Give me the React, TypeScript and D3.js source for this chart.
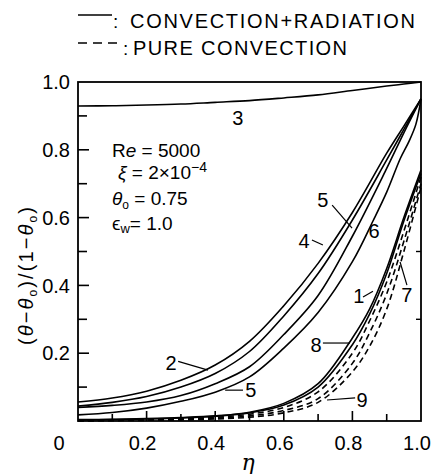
import React from "react";
import * as d3 from "d3";

// ---------- data ----------
const etaMid = [0, 0.1, 0.2, 0.3, 0.4, 0.5, 0.6, 0.7, 0.8, 0.9, 0.95, 1.0];
const curve4 = [0.056, 0.068, 0.088, 0.12, 0.165, 0.235, 0.34, 0.465, 0.615, 0.79, 0.87, 0.95];
const curve5 = [0.044, 0.055, 0.072, 0.1, 0.14, 0.205, 0.31, 0.435, 0.593, 0.77, 0.86, 0.95];
const curve2 = [0.04, 0.046, 0.056, 0.075, 0.11, 0.16, 0.255, 0.37, 0.545, 0.745, 0.85, 0.95];
const eta6 = [0, 0.1, 0.2, 0.3, 0.4, 0.5, 0.6, 0.7, 0.8, 0.86, 0.9, 0.94, 0.965, 0.985, 1.0];
const curve6 = [0.018, 0.025, 0.038, 0.058, 0.085, 0.13, 0.215, 0.32, 0.47, 0.59, 0.675, 0.775, 0.825, 0.875, 0.95];
const curve3 = [0.929, 0.93, 0.932, 0.935, 0.94, 0.945, 0.953, 0.962, 0.975, 0.988, 0.994, 1.0];

const etaLow = [0, 0.1, 0.2, 0.3, 0.4, 0.5, 0.6, 0.7, 0.8, 0.85, 0.9, 0.95, 1.0];
const curve1 = [0.004, 0.005, 0.007, 0.01, 0.015, 0.026, 0.052, 0.11, 0.245, 0.33, 0.45, 0.6, 0.74];
const curve8 = [0.003, 0.004, 0.006, 0.009, 0.014, 0.024, 0.047, 0.1, 0.225, 0.315, 0.435, 0.59, 0.73];
const curve7a = [0.002, 0.003, 0.004, 0.007, 0.011, 0.02, 0.04, 0.086, 0.2, 0.295, 0.41, 0.56, 0.72];
const curve7b = [0.001, 0.002, 0.003, 0.005, 0.008, 0.015, 0.031, 0.066, 0.17, 0.26, 0.375, 0.53, 0.7];
const curve9 = [0.0, 0.001, 0.002, 0.003, 0.006, 0.011, 0.024, 0.055, 0.145, 0.22, 0.33, 0.5, 0.69];

const yMajorTicks = [0.2, 0.4, 0.6, 0.8, 1.0];
const yMajorLabels = ["0.2", "0.4", "0.6", "0.8", "1.0"];
const yMinorTicks = [0.1, 0.3, 0.5, 0.7, 0.9];
const xMajorTicks = [0, 0.2, 0.4, 0.6, 0.8, 1.0];
const xMajorLabels = ["0", "0.2", "0.4", "0.6", "0.8", "1.0"];
const xMinorTicks = [0.1, 0.3, 0.5, 0.7, 0.9];
const rightTicks = [0.3, 0.5];

// curve-number annotations (data coords)
const labelText = ["3", "2", "5", "5", "4", "6", "1", "7", "8", "9"];
const labelEta = [0.466, 0.271, 0.504, 0.714, 0.659, 0.863, 0.819, 0.959, 0.694, 0.828];
const labelVal = [0.873, 0.15, 0.071, 0.631, 0.51, 0.54, 0.348, 0.351, 0.204, 0.041];
const leaders: (number[] | null)[] = [
  null,
  [0.292, 0.176, 0.379, 0.15],
  [0.429, 0.091, 0.481, 0.091],
  [0.741, 0.637, 0.799, 0.569],
  [0.682, 0.534, 0.714, 0.519],
  null,
  [0.831, 0.366, 0.86, 0.383],
  [0.959, 0.401, 0.939, 0.469],
  [0.714, 0.23, 0.793, 0.23],
  [0.808, 0.068, 0.726, 0.062],
];

const FONT = "'Liberation Sans', Arial, sans-serif";

export default function App() {
  const W = 434, H = 474;
  const x = d3.scaleLinear().domain([0, 1]).range([78, 421]);
  const y = d3.scaleLinear().domain([0, 1]).range([421, 82]);

  const mk = (xs: number[], ys: number[]) =>
    d3
      .line<number>()
      .x((_, i) => x(xs[i]))
      .y((v) => y(v))
      .curve(d3.curveCatmullRom.alpha(0.5))(ys) as string;

  const solid = [
    { xs: etaMid, ys: curve3 },
    { xs: etaMid, ys: curve4 },
    { xs: etaMid, ys: curve5 },
    { xs: etaMid, ys: curve2 },
    { xs: eta6, ys: curve6 },
    { xs: etaLow, ys: curve1 },
    { xs: etaLow, ys: curve8 },
  ];
  const dashed = [
    { xs: etaLow, ys: curve7a },
    { xs: etaLow, ys: curve7b },
    { xs: etaLow, ys: curve9 },
  ];

  return (
    <svg
      width={W}
      height={H}
      style={{ position: "absolute", left: 0, top: 0, background: "#fff" }}
      fontFamily={FONT}
    >
      <rect width={W} height={H} fill="#fff" />
      {/* legend */}
      <line x1={78} x2={112} y1={15} y2={15} stroke="#000" strokeWidth={1.6} />
      <text x={113} y={28} fontSize={19}>:</text>
      <text x={130} y={28} fontSize={20} textLength={285} lengthAdjust="spacing">
        CONVECTION+RADIATION
      </text>
      <line x1={78} x2={122} y1={43} y2={43} stroke="#000" strokeWidth={1.6} strokeDasharray="9,6" />
      <text x={123} y={55} fontSize={19}>:</text>
      <text x={133} y={55} fontSize={20} textLength={214} lengthAdjust="spacing">
        PURE CONVECTION
      </text>

      {/* frame */}
      <rect x={78} y={82} width={343} height={339} fill="none" stroke="#000" strokeWidth={1.8} />

      {/* y ticks */}
      {yMajorTicks.map((t, i) => (
        <g key={"ym" + i}>
          {t < 1 && <line x1={78} x2={89} y1={y(t)} y2={y(t)} stroke="#000" strokeWidth={1.6} />}
          <text x={70} y={y(t)} dy="0.36em" fontSize={20} textAnchor="end">
            {yMajorLabels[i]}
          </text>
        </g>
      ))}
      {yMinorTicks.map((t, i) => (
        <line key={"yn" + i} x1={78} x2={87} y1={y(t)} y2={y(t)} stroke="#000" strokeWidth={1.6} />
      ))}
      {rightTicks.map((t, i) => (
        <line key={"rt" + i} x1={421} x2={416} y1={y(t)} y2={y(t)} stroke="#000" strokeWidth={1.4} />
      ))}

      {/* x ticks */}
      {xMajorTicks.map((t, i) => (
        <g key={"xm" + i}>
          {t > 0 && t < 1 && (
            <line x1={x(t)} x2={x(t)} y1={421} y2={411} stroke="#000" strokeWidth={1.6} />
          )}
          <text
            x={i === 0 ? x(t) - 19 : x(t) - 4}
            y={450}
            fontSize={20}
            textAnchor="middle"
          >
            {xMajorLabels[i]}
          </text>
        </g>
      ))}
      {xMinorTicks.map((t, i) => (
        <line key={"xn" + i} x1={x(t)} x2={x(t)} y1={421} y2={414} stroke="#000" strokeWidth={1.6} />
      ))}

      {/* axis titles */}
      <text x={248} y={470} fontSize={22} fontStyle="italic" textAnchor="middle" fontFamily="'DejaVu Serif', serif">
        η
      </text>
      <text
        transform="translate(33,276) rotate(-90)"
        fontSize={20}
        textAnchor="middle"
        textLength={138}
        lengthAdjust="spacing"
      >
        (<tspan fontStyle="italic">θ</tspan>−<tspan fontStyle="italic">θ</tspan>
        <tspan fontSize={12} dy={4}>o</tspan>
        <tspan dy={-4}>)/(1−</tspan>
        <tspan fontStyle="italic">θ</tspan>
        <tspan fontSize={12} dy={4}>o</tspan>
        <tspan dy={-4}>)</tspan>
      </text>

      {/* parameter block */}
      <text x={112} y={157} fontSize={19}>
        R<tspan fontStyle="italic">e</tspan> = 5000
      </text>
      <text x={118} y={179} fontSize={19}>
        <tspan fontStyle="italic">ξ</tspan> = 2×10
        <tspan fontSize={14} dy={-7}>−4</tspan>
      </text>
      <text x={112} y={205} fontSize={19}>
        <tspan fontStyle="italic">θ</tspan>
        <tspan fontSize={12} dy={4}>o</tspan>
        <tspan dy={-4}> = 0.75</tspan>
      </text>
      <text x={112} y={230} fontSize={19}>
        ϵ<tspan fontSize={13} dy={3}>w</tspan>
        <tspan dy={-3}>= 1.0</tspan>
      </text>

      {/* curves */}
      {solid.map((c, i) => (
        <path key={"s" + i} d={mk(c.xs, c.ys)} fill="none" stroke="#000" strokeWidth={1.6} />
      ))}
      {dashed.map((c, i) => (
        <path
          key={"d" + i}
          d={mk(c.xs, c.ys)}
          fill="none"
          stroke="#000"
          strokeWidth={1.6}
          strokeDasharray="6,4"
        />
      ))}

      {/* curve labels */}
      {labelText.map((t, i) => (
        <g key={"l" + i}>
          <text x={x(labelEta[i])} y={y(labelVal[i])} fontSize={20} textAnchor="middle">
            {t}
          </text>
          {leaders[i] && (
            <line
              x1={x(leaders[i]![0])}
              y1={y(leaders[i]![1])}
              x2={x(leaders[i]![2])}
              y2={y(leaders[i]![3])}
              stroke="#000"
              strokeWidth={1.2}
            />
          )}
        </g>
      ))}
    </svg>
  );
}
